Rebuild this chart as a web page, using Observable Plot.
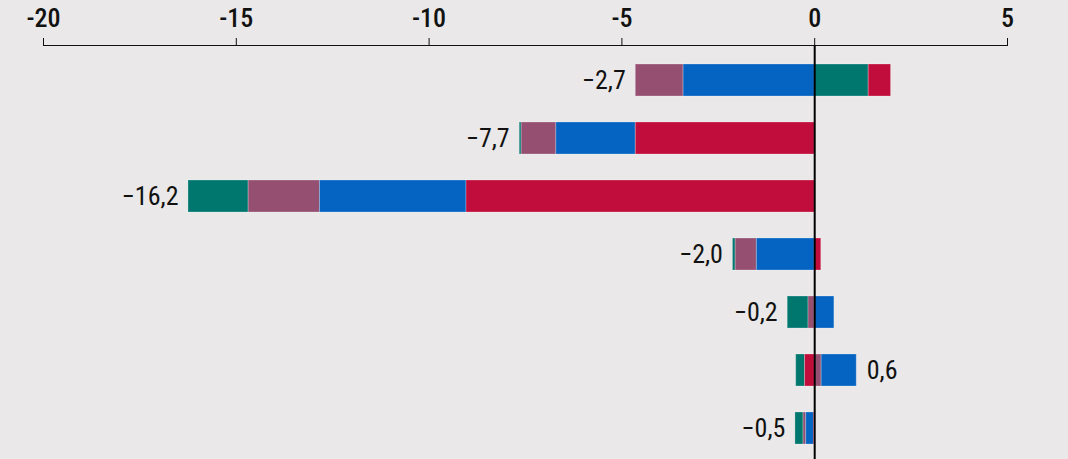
<!DOCTYPE html>
<html>
<head>
<meta charset="utf-8">
<script src="https://cdn.jsdelivr.net/npm/d3@7"></script>
<script src="https://cdn.jsdelivr.net/npm/@observablehq/plot@0.6"></script>
<style>
  html, body { margin: 0; padding: 0; background: #eae8e8; }
  #chart svg { display: block; }
  #chart svg g[aria-label="x-axis tick label"] text { font-weight: 500; }
</style>
</head>
<body>
<div id="chart"></div>
<script>
// Rows (top to bottom), series values
const rows = [0, 1, 2, 3, 4, 5, 6];
const seriesNames = ["teal", "mauve", "blue", "red"];
const seriesColors = ["#00776e", "#955071", "#0563c1", "#c10d3c"];
const teal  = [ 1.40, -0.05, -1.56, -0.07, -0.54, -0.23, -0.21];
const mauve = [-1.24, -0.90, -1.85, -0.55, -0.16,  0.18, -0.07];
const blue  = [-3.40, -2.06, -3.80, -1.50,  0.51,  0.91, -0.20];
const red   = [ 0.58, -4.64, -9.03,  0.17,  0.00, -0.25, -0.02];
const totals = [-2.7, -7.7, -16.2, -2.0, -0.2, 0.6, -0.5];
const xTicks = [-20, -15, -10, -5, 0, 5];

// stacking order: positives from zero: teal, mauve, blue, red; negatives from zero: red, blue, mauve, teal
const posOrder = ["teal", "mauve", "blue", "red"];
const negOrder = ["red", "blue", "mauve", "teal"];
const values = {teal, mauve, blue, red};

const data = [];
rows.forEach((r, i) => {
  seriesNames.forEach(s => {
    const v = values[s][i];
    if (v === 0) return;
    data.push({row: r, series: s, value: v, rank: v > 0 ? posOrder.indexOf(s) : negOrder.indexOf(s)});
  });
});

const labels = rows.map((r, i) => {
  const neg = seriesNames.reduce((a, s) => a + Math.min(0, values[s][i]), 0);
  const pos = seriesNames.reduce((a, s) => a + Math.max(0, values[s][i]), 0);
  const t = totals[i];
  return {
    row: r,
    x: t < 0 ? neg : pos,
    total: t,
    label: (t < 0 ? "\u2212" : "") + Math.abs(t).toFixed(1).replace(".", ",")
  };
});

const font = "'Roboto Condensed', 'DejaVu Sans Condensed', 'Liberation Sans Narrow', 'DejaVu Sans', sans-serif";

const chart = Plot.plot({
  width: 1068,
  height: 459,
  marginLeft: 43,
  marginRight: 61,
  marginTop: 45,
  marginBottom: 0,
  style: {background: "#eae8e8", fontFamily: font, fontSize: "26px", color: "#111", fontStretch: "condensed"},
  x: {domain: [-20, 5], axis: "top", ticks: xTicks, tickFormat: d => String(d), tickSize: 8, tickPadding: 11, line: true, label: null},
  y: {domain: rows, axis: null, paddingInner: 0.44, paddingOuter: 0.2, insetTop: 5},
  color: {domain: seriesNames, range: seriesColors},
  marks: [
    Plot.barX(data, Plot.stackX({y: "row", x: "value", fill: "series", order: "rank", stroke: "#ffffff", strokeOpacity: 0.25, strokeWidth: 1})),
    Plot.ruleX([0], {stroke: "#000", strokeWidth: 2}),
    Plot.text(labels.filter(d => d.total < 0), {x: "x", y: "row", text: "label", textAnchor: "end", dx: -10, fontSize: 26, fontWeight: "normal", fill: "#111"}),
    Plot.text(labels.filter(d => d.total >= 0), {x: "x", y: "row", text: "label", textAnchor: "start", dx: 10, fontSize: 26, fontWeight: "normal", fill: "#111"})
  ]
});
document.getElementById("chart").appendChild(chart);
</script>
</body>
</html>
